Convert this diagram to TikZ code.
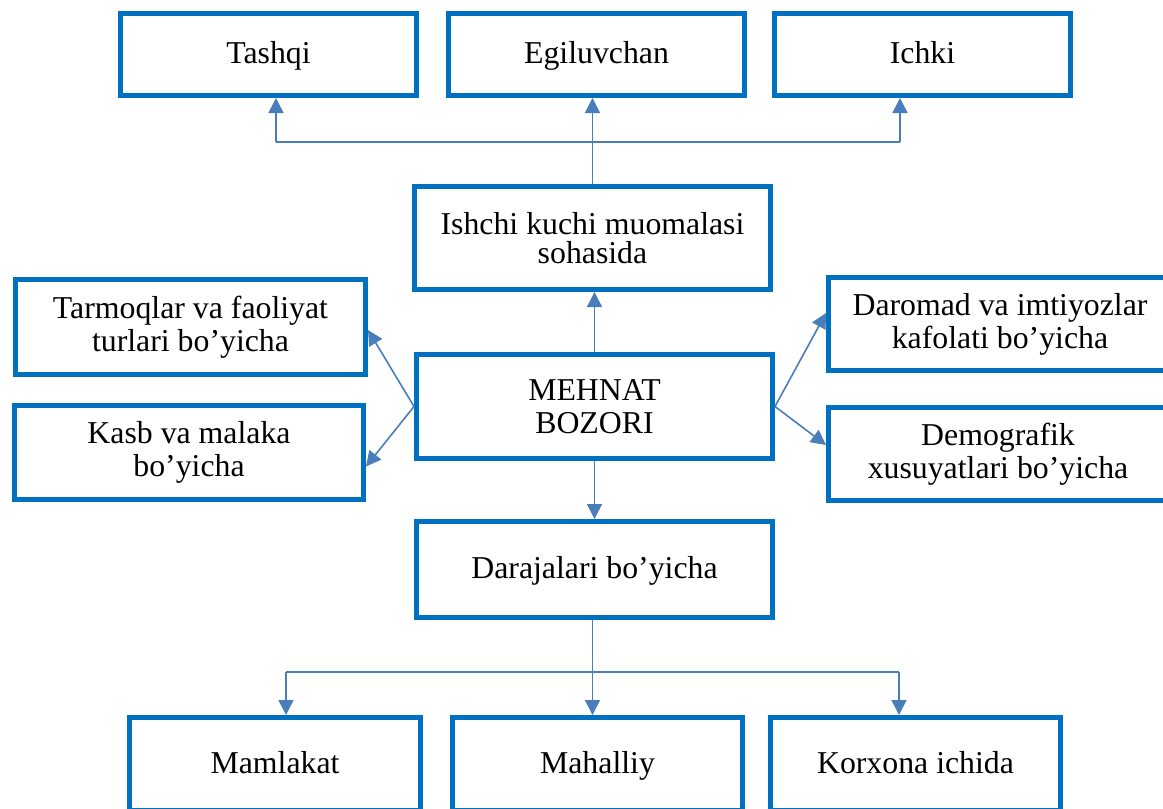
\documentclass[tikz,border=0pt]{standalone}
\usepackage{fontspec}
\setmainfont{Liberation Serif}
\usetikzlibrary{arrows.meta}
\definecolor{boxblue}{RGB}{0,112,192}
\definecolor{linkblue}{RGB}{74,126,187}
\begin{document}
\begin{tikzpicture}[x=1pt,y=-1pt,
  box/.style={draw=boxblue, line width=5pt, fill=white, inner sep=0pt,
    align=center, font=\fontsize{31.8}{33}\selectfont},
  oneline/.style={text height=24pt, text depth=6pt},
  link/.style={draw=linkblue, line width=1.6pt,
    -{Triangle[length=15pt,width=15pt]}},
  plain/.style={draw=linkblue, line width=1.6pt}]
\useasboundingbox (0,0) rectangle (1163,809);
\clip (0,0) rectangle (1163,809);

% top row
\node[box, oneline, minimum width=296pt, minimum height=82pt] (tashqi) at (268.5,54.5) {Tashqi};
\node[box, oneline, minimum width=296pt, minimum height=82pt] (egil) at (596.5,54.5) {Egiluvchan};
\node[box, oneline, minimum width=296pt, minimum height=82pt] (ichki) at (922.5,54.5) {Ichki};

% middle column
\node[box, minimum width=356pt, minimum height=103pt, font=\fontsize{31.8}{29}\selectfont] (ishchi) at (592.5,238) {Ishchi kuchi muomalasi\\sohasida};
\node[box, minimum width=356pt, minimum height=104pt] (mehnat) at (594.5,406.5) {MEHNAT\\BOZORI};
\node[box, oneline, minimum width=356pt, minimum height=96pt] (daraj) at (594.5,569.5) {Darajalari bo’yicha};

% side boxes
\node[box, minimum width=350pt, minimum height=95pt] (tarm) at (190.5,327) {Tarmoqlar va faoliyat\\turlari bo’yicha};
\node[box, minimum width=349pt, minimum height=94pt] (kasb) at (189,452.5) {Kasb va malaka\\bo’yicha};
\node[box, minimum width=343pt, minimum height=93pt] (darom) at (1000,324) {Daromad va imtiyozlar\\kafolati bo’yicha};
\node[box, minimum width=339pt, minimum height=93pt] (demo) at (998,454) {Demografik\\xusuyatlari bo’yicha};

% bottom row
\node[box, oneline, minimum width=291pt, minimum height=93pt] (mamlakat) at (275,764) {Mamlakat};
\node[box, oneline, minimum width=290pt, minimum height=93pt] (mahal) at (597.5,764) {Mahalliy};
\node[box, oneline, minimum width=290pt, minimum height=93pt] (korx) at (915.5,764) {Korxona ichida};

% upper branch
\coordinate (tl) at (276,142);
\coordinate (tr) at (900,142);
\draw[link] (ishchi.north) -- (ishchi.north |- egil.south);
\draw[plain] (tl) -- (tr);
\draw[link] (tl) -- (tl |- tashqi.south);
\draw[link] (tr) -- (tr |- ichki.south);

% centre links
\draw[link] (mehnat.north) -- (mehnat.north |- ishchi.south);
\draw[link] (mehnat.south) -- (mehnat.south |- daraj.north);

% side links
\draw[link] (mehnat.west) -- ([yshift=-3pt]tarm.east);
\draw[link] (mehnat.west) -- ([yshift=-14pt]kasb.east);
\draw[link] (mehnat.east) -- ([yshift=11pt]darom.west);
\draw[link] (mehnat.east) -- ([yshift=9pt]demo.west);

% lower branch
\coordinate (bl) at (286,672);
\coordinate (br) at (899,672);
\draw[link] ([xshift=-2pt]daraj.south) -- ([xshift=-2pt]daraj.south |- mahal.north);
\draw[plain] (bl) -- (br);
\draw[link] (bl) -- (bl |- mamlakat.north);
\draw[link] (br) -- (br |- korx.north);
\end{tikzpicture}
\end{document}
